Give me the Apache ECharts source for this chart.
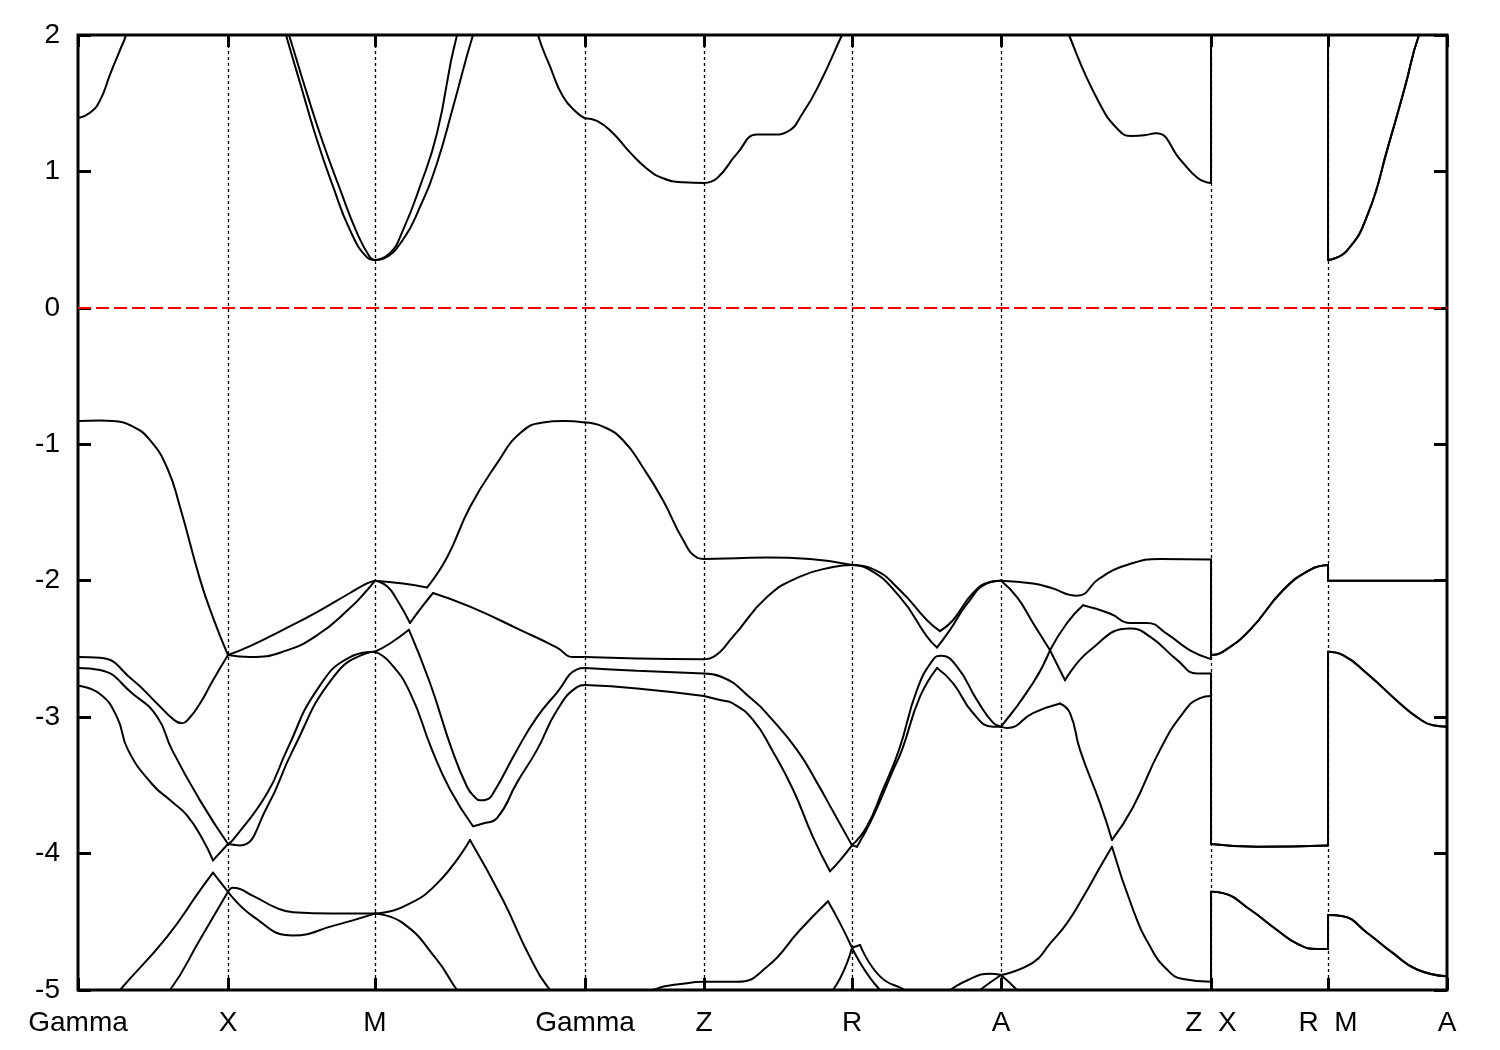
<!DOCTYPE html>
<html>
<head>
<meta charset="utf-8">
<script src="https://cdn.jsdelivr.net/npm/echarts@6/dist/echarts.min.js"></script>
<style>
html,body{margin:0;padding:0;background:#fff;}
#chart{width:1500px;height:1050px;}
</style>
</head>
<body>
<div id="chart"></div>
<script>
// High-symmetry points along the k-path (path distance units)
const kTicks = [0, 150, 297, 507, 626, 774, 923, 1133, 1250, 1369];
const kLabels = ['Gamma', 'X', 'M', 'Gamma', 'Z', 'R', 'A', 'Z  X', 'R  M', 'A'];
const energyMin = -5;
const energyMax = 2;
const energyStep = 1;
const fermiLevel = 0;

// Bands: [k, E(eV)] pairs; repeated k = path discontinuity (Z|X, R|M)
const cb1 = [
  [0,1.39],[12,1.43],[22,1.52],[32,1.71],[42,1.89],[48,2.0],[70,2.6],[150,3.6],
  [185,2.6],[208,2.0],[222,1.65],[239,1.23],[255,0.89],[272,0.57],[289,0.37],[297,0.35],
  [305,0.36],[325,0.50],[342,0.74],[359,1.06],[375,1.47],[395,2.0],[430,2.8],[460,2.0],[472,1.77],[485,1.55],[499,1.43],[507,1.39],
  [519,1.37],[535,1.28],[552,1.14],[569,1.02],[585,0.95],[605,0.92],[626,0.915],
  [639,0.95],[659,1.13],[679,1.27],[695,1.27],[709,1.29],[725,1.43],[742,1.65],[764,2.0],[774,2.15],
  [850,2.6],[923,2.8],
  [960,2.6],[991,2.0],[1020,1.52],[1041,1.30],[1054,1.26],[1066,1.265],[1078,1.28],[1103,1.08],[1120,0.95],[1133,0.915],
  [1133,3.6],[1250,3.4],
  [1250,0.35],[1269,0.42],[1290,0.69],[1310,1.18],[1327,1.62],[1341,2.0],[1369,2.5]
];
const cb2 = [
  [0,2.6],[150,3.8],
  [185,2.6],[211,2.0],[229,1.57],[245,1.21],[262,0.87],[279,0.55],[292,0.37],[297,0.35],
  [312,0.40],[325,0.57],[342,0.89],[359,1.28],[379,2.0],[420,3.0],[507,3.2],
  [626,3.0],[774,3.0],[923,3.2],[1133,3.0],
  [1133,3.8],[1250,3.4],
  [1250,0.35],[1269,0.42],[1290,0.69],[1310,1.18],[1327,1.62],[1341,2.0],[1369,2.5]
];
const vb1 = [
  [0,-0.83],[22,-0.825],[35,-0.83],[55,-0.87],[72,-0.97],[89,-1.17],[102,-1.46],[122,-1.99],[135,-2.27],[150,-2.545],
  [172,-2.48],[205,-2.36],[239,-2.23],[272,-2.09],[289,-2.02],[297,-2.0],
  [325,-2.02],[349,-2.05],[369,-1.83],[392,-1.46],[419,-1.14],[442,-0.92],[465,-0.84],[485,-0.83],[507,-0.84],
  [525,-0.87],[545,-0.97],[565,-1.17],[585,-1.41],[605,-1.70],[619,-1.83],[626,-1.84],
  [659,-1.835],[689,-1.83],[732,-1.84],[774,-1.885],
  [795,-1.915],[822,-2.07],[849,-2.29],[862,-2.37],[875,-2.29],[895,-2.09],[912,-2.01],[923,-2.0],
  [955,-2.02],[972,-2.05],[999,-2.11],[1022,-1.98],[1049,-1.885],[1082,-1.84],[1133,-1.845],
  [1133,-2.545],[1145,-2.52],[1172,-2.36],[1205,-2.07],[1232,-1.92],[1250,-1.885],
  [1250,-2.0],[1310,-2.0],[1369,-2.0]
];
const vb2 = [
  [0,-2.56],[22,-2.565],[55,-2.73],[79,-2.90],[96,-3.02],[104,-3.045],[111,-3.01],[122,-2.90],[135,-2.73],[150,-2.545],
  [172,-2.56],[205,-2.52],[239,-2.40],[272,-2.20],[289,-2.07],[297,-2.0],
  [309,-2.04],[319,-2.14],[332,-2.31],[342,-2.21],[355,-2.09],[392,-2.19],[442,-2.36],[479,-2.49],[495,-2.56],[507,-2.56],
  [559,-2.57],[626,-2.575],
  [635,-2.56],[655,-2.41],[689,-2.12],[722,-1.97],[755,-1.90],[774,-1.885],
  [789,-1.91],[822,-2.12],[849,-2.41],[859,-2.49],[872,-2.36],[889,-2.17],[909,-2.02],[923,-2.0],
  [939,-2.12],[955,-2.31],[972,-2.51],[989,-2.31],[1005,-2.18],[1032,-2.24],[1052,-2.31],[1069,-2.31],[1089,-2.39],[1112,-2.51],[1133,-2.575],
  [1133,-2.545],[1145,-2.52],[1172,-2.36],[1205,-2.07],[1232,-1.92],[1250,-1.885],
  [1250,-2.0],[1310,-2.0],[1369,-2.0]
];
const vb3 = [
  [0,-2.64],[22,-2.655],[55,-2.83],[79,-2.995],[94,-3.24],[122,-3.61],[150,-3.93],
  [155,-3.90],[189,-3.56],[209,-3.24],[239,-2.80],[272,-2.56],[297,-2.52],
  [312,-2.46],[331,-2.36],[352,-2.75],[374,-3.24],[389,-3.51],[396,-3.58],[402,-3.61],[408,-3.605],[415,-3.56],[439,-3.24],[459,-3.0],[479,-2.82],[499,-2.65],[507,-2.64],
  [559,-2.66],[626,-2.68],
  [642,-2.70],[675,-2.875],[692,-3.0],[719,-3.24],[739,-3.48],[755,-3.69],[774,-3.94],
  [789,-3.80],[805,-3.53],[821,-3.24],[839,-2.80],[855,-2.58],[863,-2.55],[879,-2.63],[899,-2.875],[915,-3.04],[923,-3.07],
  [955,-2.75],[972,-2.51],[987,-2.73],[1012,-2.51],[1052,-2.35],[1072,-2.41],[1099,-2.58],[1119,-2.68],[1133,-2.68],
  [1133,-3.93],[1179,-3.95],[1250,-3.94],
  [1250,-2.52],[1265,-2.545],[1289,-2.68],[1322,-2.90],[1339,-3.0],[1355,-3.06],[1369,-3.07]
];
const vb4 = [
  [0,-2.77],[22,-2.83],[39,-3.0],[50,-3.24],[74,-3.49],[94,-3.62],[109,-3.72],[125,-3.90],[135,-4.05],[150,-3.93],
  [162,-3.94],[189,-3.66],[215,-3.24],[255,-2.71],[289,-2.53],[297,-2.52],
  [312,-2.60],[332,-2.82],[354,-3.24],[372,-3.53],[395,-3.80],[405,-3.78],[419,-3.74],[439,-3.48],[459,-3.24],[479,-2.95],[499,-2.78],[507,-2.765],
  [559,-2.79],[626,-2.845],
  [642,-2.875],[655,-2.90],[675,-3.02],[694,-3.24],[715,-3.53],[735,-3.88],[752,-4.13],[762,-4.05],[774,-3.94],
  [779,-3.95],[795,-3.73],[815,-3.39],[824,-3.24],[842,-2.85],[859,-2.64],[875,-2.75],[895,-2.97],[915,-3.07],[923,-3.07],
  [929,-3.08],[955,-2.97],[982,-2.90],[992,-2.97],[1002,-3.24],[1022,-3.63],[1034,-3.90],[1055,-3.66],[1082,-3.24],[1105,-2.97],[1122,-2.86],[1133,-2.845],
  [1133,-3.93],[1179,-3.95],[1250,-3.94],
  [1250,-2.52],[1265,-2.545],[1289,-2.68],[1322,-2.90],[1339,-3.0],[1355,-3.06],[1369,-3.07]
];
const vb5 = [
  [0,-5.35],[20,-5.2],[42,-5.0],[89,-4.61],[122,-4.27],[135,-4.14],[150,-4.28],
  [155,-4.25],[175,-4.31],[199,-4.40],[215,-4.43],[255,-4.44],[297,-4.44],
  [325,-4.39],[359,-4.22],[392,-3.90],[425,-4.34],[452,-4.76],[472,-5.0],[507,-5.3],
  [545,-5.15],[575,-5.0],[609,-4.95],[626,-4.94],
  [659,-4.94],[689,-4.83],[722,-4.56],[750,-4.35],[762,-4.51],[774,-4.69],
  [782,-4.67],[802,-4.9],[827,-5.0],[850,-5.1],[872,-5.0],[889,-4.93],[912,-4.88],[923,-4.89],
  [955,-4.80],[972,-4.66],[989,-4.51],[1005,-4.32],[1022,-4.10],[1034,-3.95],[1055,-4.41],[1072,-4.68],[1089,-4.85],[1105,-4.92],[1133,-4.94],
  [1133,-4.28],[1145,-4.29],[1172,-4.41],[1199,-4.56],[1219,-4.66],[1239,-4.70],[1250,-4.70],
  [1250,-4.45],[1265,-4.46],[1289,-4.58],[1315,-4.73],[1339,-4.85],[1369,-4.90]
];
const vb6 = [
  [0,-5.7],[50,-5.35],[92,-5.0],[122,-4.63],[150,-4.28],
  [175,-4.46],[215,-4.60],[255,-4.53],[297,-4.44],
  [325,-4.51],[359,-4.78],[379,-5.0],[420,-5.4],[507,-5.6],
  [626,-5.4],
  [720,-5.25],[755,-5.0],[774,-4.69],
  [802,-5.0],[850,-5.3],[902,-5.0],[923,-4.89],
  [939,-5.0],[990,-5.4],[1133,-5.5],
  [1133,-4.28],[1145,-4.29],[1172,-4.41],[1199,-4.56],[1219,-4.66],[1239,-4.70],[1250,-4.70],
  [1250,-4.45],[1265,-4.46],[1289,-4.58],[1315,-4.73],[1339,-4.85],[1369,-4.90]
];

const bands = [cb1, cb2, vb1, vb2, vb3, vb4, vb5, vb6];

// ---- rendering ----
const FONT = "'Liberation Sans', Arial, Helvetica, sans-serif";
const W = 1500, H = 1050;
const GRID = {left: 78, right: 53, top: 35, bottom: 60};
const pxPerK = (W - GRID.left - GRID.right) / (kTicks[kTicks.length - 1] - kTicks[0]);
const pxPerE = (H - GRID.top - GRID.bottom) / (energyMax - energyMin);

function splitBand(band) {
  const out = [];
  let cur = [band[0]];
  for (let i = 1; i < band.length; i++) {
    const p = band[i], q = band[i - 1];
    if (p[0] === q[0]) {
      if (cur.length > 1) out.push({pts: cur, jump: false});
      out.push({pts: [q, p], jump: true});
      cur = [p];
      continue;
    }
    cur.push(p);
    const next = band[i + 1];
    const isTick = kTicks.includes(p[0]);
    let kink = false;
    if (!isTick && next && next[0] !== p[0]) {
      const a1 = Math.atan2((p[1] - q[1]) * pxPerE, (p[0] - q[0]) * pxPerK);
      const a2 = Math.atan2((next[1] - p[1]) * pxPerE, (next[0] - p[0]) * pxPerK);
      kink = Math.abs(a2 - a1) > 1.1;
    }
    if ((isTick || kink) && i < band.length - 1) {
      out.push({pts: cur, jump: false});
      cur = [p];
    }
  }
  if (cur.length > 1) out.push({pts: cur, jump: false});
  return out;
}

const series = [];
series.push({
  type: 'line', data: [], silent: true, z: 1, animation: false,
  markLine: {
    silent: true, symbol: ['none', 'none'], label: {show: false}, animation: false,
    lineStyle: {color: '#000', type: [3, 3], width: 1.3},
    data: kTicks.slice(1, -1).map(k => ({xAxis: k}))
  }
});
series.push({
  type: 'line', data: [], silent: true, z: 1, animation: false,
  markLine: {
    silent: true, symbol: ['none', 'none'], label: {show: false}, animation: false,
    lineStyle: {color: '#ff0000', type: [13, 5], width: 2},
    data: [{yAxis: fermiLevel}]
  }
});
bands.forEach(b => {
  splitBand(b).forEach(piece => {
    series.push({
      type: 'line', data: piece.pts, showSymbol: false, symbol: 'none',
      smooth: piece.jump ? false : 0.5,
      lineStyle: {color: '#000', width: 2, cap: 'round', join: 'round'},
      silent: true, z: 3, animation: false, clip: true
    });
  });
});

function labelFor(v) {
  let best = 0, d = Infinity;
  kTicks.forEach((k, i) => { if (Math.abs(k - v) < d) { d = Math.abs(k - v); best = i; } });
  return kLabels[best];
}

const tickStyle = {show: true, inside: true, length: 12, lineStyle: {color: '#000', width: 3}};
const chart = echarts.init(document.getElementById('chart'), null, {renderer: 'canvas'});
chart.setOption({
  backgroundColor: '#fff',
  animation: false,
  grid: Object.assign({show: true, borderColor: '#000', borderWidth: 3, backgroundColor: 'transparent'}, GRID),
  xAxis: [
    {
      type: 'value', min: kTicks[0], max: kTicks[kTicks.length - 1], position: 'bottom',
      axisLine: {show: false, onZero: false}, splitLine: {show: false},
      axisTick: Object.assign({customValues: kTicks}, tickStyle),
      axisLabel: {customValues: kTicks, formatter: labelFor, fontSize: 28, color: '#000', fontFamily: FONT, margin: 19}
    },
    {
      type: 'value', min: kTicks[0], max: kTicks[kTicks.length - 1], position: 'top',
      axisLine: {show: false, onZero: false}, splitLine: {show: false},
      axisTick: Object.assign({customValues: kTicks}, tickStyle),
      axisLabel: {show: false}
    }
  ],
  yAxis: [
    {
      type: 'value', min: energyMin, max: energyMax, interval: energyStep, position: 'left',
      axisLine: {show: false, onZero: false}, splitLine: {show: false},
      axisTick: Object.assign({}, tickStyle, {length: 13}),
      axisLabel: {fontSize: 28, color: '#000', fontFamily: FONT, margin: 18}
    },
    {
      type: 'value', min: energyMin, max: energyMax, interval: energyStep, position: 'right',
      axisLine: {show: false, onZero: false}, splitLine: {show: false},
      axisTick: Object.assign({}, tickStyle, {length: 13}),
      axisLabel: {show: false}
    }
  ],
  series: series
});
</script>
</body>
</html>
